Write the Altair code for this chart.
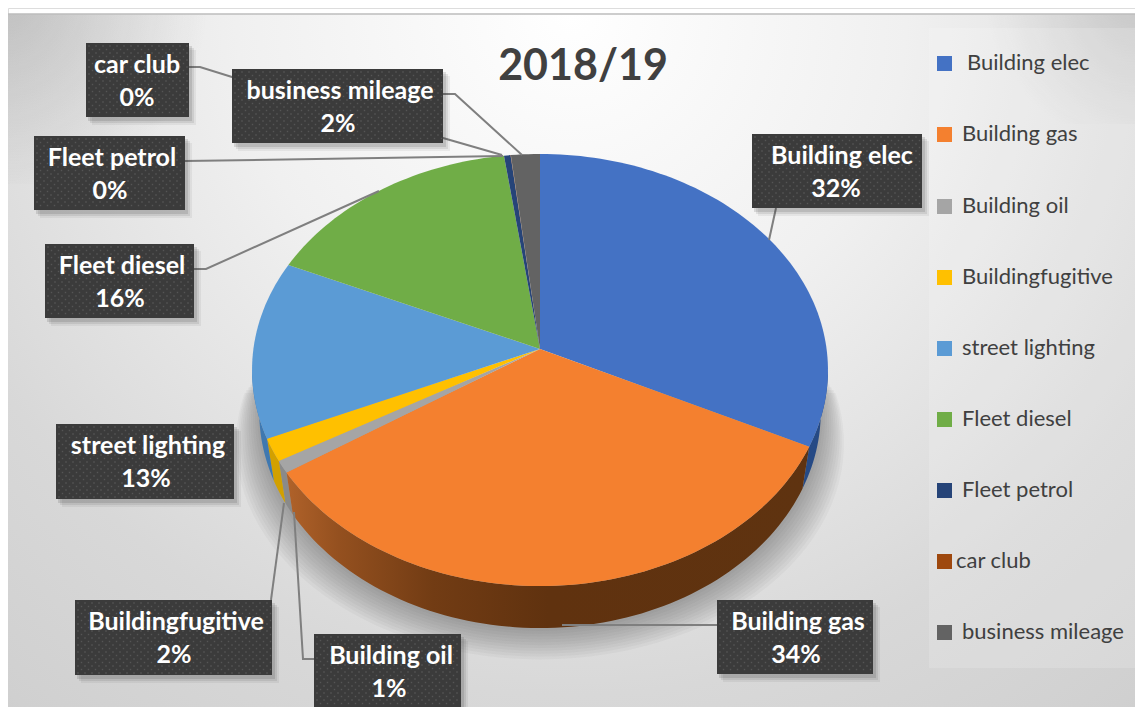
import math
import altair as alt
import pandas as pd

# ---- values
categories = ["Building elec", "Building gas", "Building oil", "Buildingfugitive",
              "street lighting", "Fleet diesel", "Fleet petrol", "car club", "business mileage"]
shares = [32.2, 33.6, 0.9, 1.7, 13.3, 16.1, 0.4, 0.02, 1.78]
percent_labels = ["32%", "34%", "1%", "2%", "13%", "16%", "0%", "0%", "2%"]
title_text = "2018/19"

# ---- styles
top_colors = ["#4472C4", "#F4802F", "#A5A5A5", "#FFC000", "#5B9BD5", "#70AD47", "#264478", "#9E480E", "#636363"]
wall_colors = ["#264a85", "#60320f", "#8a8a8a", "#d2a000", "#3f78b0", "#5a8a38", "#264478", "#9E480E", "#636363"]
FONT = "Lato"

# ---- layout
W, H = 1127, 699
TOP = 14
CX, APEX_Y = 540.0, 349.0
K, RX, RY = 0.0972, 286.6, 214.0
DEPTH, SHRINK = 42.0, 0.975

x_enc = alt.X("x:Q", scale=alt.Scale(domain=[8, 8 + W], range=[0, W], nice=False, zero=False), axis=None)
y_enc = alt.Y("y:Q", scale=alt.Scale(domain=[8, 8 + H], range=[0, H], nice=False, zero=False), axis=None)


def rim(theta_deg):
    t = math.radians(theta_deg)
    u, v = math.sin(t), math.cos(t)
    w = 1 + K * v
    return CX + RX * u / w, APEX_Y - RY * v / w


def drop(p):
    return CX + (p[0] - CX) * SHRINK, p[1] + DEPTH


def angles(a, b, step=1.5):
    n = max(2, int(abs(b - a) / step) + 2)
    return [a + (b - a) * i / (n - 1) for i in range(n)]


def poly_rows(pid, color, pts):
    return [{"id": pid, "i": i, "x": p[0], "y": p[1], "color": color} for i, p in enumerate(pts)]


def poly_layer(rows, **mark):
    return alt.Chart(pd.DataFrame(rows)).mark_line(strokeWidth=0, **mark).encode(
        x=x_enc, y=y_enc, order="i:Q", detail="id:N",
        fill=alt.Fill("color:N", scale=None))


def gradient_poly(pts, gradient):
    df = pd.DataFrame(poly_rows("g", "g", pts))
    return alt.Chart(df).mark_line(strokeWidth=0, fill=gradient).encode(
        x=x_enc, y=y_enc, order="i:Q")


bounds = []
acc = 0.0
for s in shares:
    bounds.append((acc * 3.6, (acc + s) * 3.6))
    acc += s

# top slices
top_rows = []
for name, col, (a, b) in zip(categories, top_colors, bounds):
    pts = [(CX, APEX_Y)] + [rim(t) for t in angles(a, b)]
    top_rows += poly_rows(name, col, pts)
top_layer = poly_layer(top_rows)

# walls (only the visible front part of the rim)
VIS_A, VIS_B = 95.6, 264.4
wall_layers = []
wall_rows = []
for name, col, (a, b) in zip(categories, wall_colors, bounds):
    lo, hi = max(a, VIS_A), min(b, VIS_B)
    if hi <= lo:
        continue
    up = [rim(t) for t in angles(lo, hi)]
    pts = up + [drop(p) for p in reversed(up)]
    if name == "Building gas":
        wall_layers.append(gradient_poly(pts, alt.Gradient(
            gradient="linear", x1=1, x2=0, y1=0, y2=0,
            stops=[alt.GradientStop(offset=0, color="#5f3310"),
                   alt.GradientStop(offset=0.5, color="#60320f"),
                   alt.GradientStop(offset=0.72, color="#723c14"),
                   alt.GradientStop(offset=0.9, color="#94501f"),
                   alt.GradientStop(offset=1, color="#b0622a")])))
    else:
        wall_rows += poly_rows(name, col, pts)
wall_layers.insert(0, poly_layer(wall_rows))

# soft shadow under the pie: stacked translucent outlines
shadow_rows = []
shadow_steps = [33, 30, 27, 24, 21, 18, 15, 12, 9, 6, 3]
for g in shadow_steps:
    pts = []
    for t in angles(82, 278, 3):
        p = drop(rim(t))
        pts.append((CX + (p[0] - CX) * (1 + g / 400.0), p[1] + g * 0.95))
    shadow_rows += poly_rows(f"s{g}", "#444444", pts)
shadow_layer = poly_layer(shadow_rows, opacity=0.045)

# background: a tall rect so the radial gradient falls off faster sideways than downward
bg_df = pd.DataFrame({"x": [8], "x2": [8 + W], "y": [TOP], "y2": [TOP + 1800]})
background = alt.Chart(bg_df).mark_rect(
    fill=alt.Gradient(gradient="radial", x1=0.5, y1=0.0, x2=0.5, y2=0.0, r1=0, r2=0.62,
                      stops=[alt.GradientStop(offset=0, color="#ffffff"),
                             alt.GradientStop(offset=0.3, color="#f0f0f0"),
                             alt.GradientStop(offset=0.61, color="#d8d8d8"),
                             alt.GradientStop(offset=0.79, color="#d0d0d0"),
                             alt.GradientStop(offset=1, color="#bababa")])
).encode(x=x_enc, x2="x2:Q", y=y_enc, y2="y2:Q")
corner_tl = alt.Chart(pd.DataFrame({"x": [8], "x2": [208], "y": [TOP], "y2": [TOP + 170]})).mark_rect(
    fill=alt.Gradient(gradient="radial", x1=0, y1=0, x2=0, y2=0, r1=0, r2=1,
                      stops=[alt.GradientStop(offset=0, color="rgba(110,110,110,0.28)"),
                             alt.GradientStop(offset=1, color="rgba(110,110,110,0)")])
).encode(x=x_enc, x2="x2:Q", y=y_enc, y2="y2:Q")
corner_tr = alt.Chart(pd.DataFrame({"x": [985], "x2": [1135], "y": [TOP], "y2": [TOP + 110]})).mark_rect(
    fill=alt.Gradient(gradient="radial", x1=1, y1=0, x2=1, y2=0, r1=0, r2=1,
                      stops=[alt.GradientStop(offset=0, color="rgba(110,110,110,0.22)"),
                             alt.GradientStop(offset=1, color="rgba(110,110,110,0)")])
).encode(x=x_enc, x2="x2:Q", y=y_enc, y2="y2:Q")
top_edge = alt.Chart(pd.DataFrame({"x": [8], "x2": [8 + W], "y": [TOP]})).mark_rule(
    color="#bdbdbd", strokeWidth=1.5).encode(x=x_enc, x2="x2:Q", y=y_enc)
panel = alt.Chart(pd.DataFrame({"x": [929], "x2": [1135], "y": [28], "y2": [668]})).mark_rect(
    fill="#ffffff", opacity=0.16).encode(x=x_enc, x2="x2:Q", y=y_enc, y2="y2:Q")

# data label boxes: left, right, top, bottom, text centre x
boxes = {
    "Building elec": (752, 922, 134, 208, 842),
    "Building gas": (717, 873, 600, 674, 798),
    "Building oil": (314, 461, 634, 707, 391),
    "Buildingfugitive": (75, 272, 600, 675, 176),
    "street lighting": (56, 234, 424, 499, 148),
    "Fleet diesel": (45, 194, 244, 318, 122),
    "Fleet petrol": (34, 185, 136, 210, 112),
    "car club": (86, 189, 43, 117, 137),
    "business mileage": (232, 443, 69, 143, 340),
}
box_df = pd.DataFrame([{"name": n, "x": b[0], "x2": b[1], "y": b[2], "y2": b[3]} for n, b in boxes.items()])
shadow_boxes = []
for off, op in [(7, 0.07), (5, 0.1), (3, 0.14)]:
    d = box_df.assign(x=box_df.x + off - 1, x2=box_df.x2 + off, y=box_df.y + off, y2=box_df.y2 + off + 1)
    shadow_boxes.append(alt.Chart(d).mark_rect(fill="#333333", opacity=op).encode(
        x=x_enc, x2="x2:Q", y=y_enc, y2="y2:Q"))
box_layer = alt.Chart(box_df).mark_rect(fill="#3b3b3b").encode(x=x_enc, x2="x2:Q", y=y_enc, y2="y2:Q")

# dotted texture of the boxes
dot_rows = []
for n, b in boxes.items():
    row = 0
    yy = b[2] + 3.0
    while yy < b[3] - 1:
        xx = b[0] + (3.0 if row % 2 == 0 else 6.5)
        while xx < b[1] - 1:
            dot_rows.append({"x": xx, "y": yy})
            xx += 7
        yy += 3.5
        row += 1
dots = alt.Chart(pd.DataFrame(dot_rows)).mark_square(size=2.2, color="#5c5c5c", opacity=0.8, strokeWidth=0).encode(
    x=x_enc, y=y_enc)

# label text
text_rows = []
for name, pct in zip(categories, percent_labels):
    b = boxes[name]
    text_rows.append({"x": b[4], "y": b[2] + 22, "t": name})
    text_rows.append({"x": b[4] - (6 if name in ("Building elec",) else 2 if name != "car club" else 0), "y": b[2] + 55, "t": pct})
label_text = alt.Chart(pd.DataFrame(text_rows)).mark_text(
    font=FONT, fontSize=25, fontWeight="bold", color="#ffffff", align="center", baseline="middle"
).encode(x=x_enc, y=y_enc, text="t:N")

# leader lines
leaders = {
    "car club": [(189, 67), (200, 67), (232, 77), (443, 138), (502, 155)],
    "business mileage": [(443, 94), (455, 94), (522, 155)],
    "Fleet petrol": [(185, 161), (503, 156)],
    "Fleet diesel": [(194, 269), (206, 269), (379, 191)],
    "Building elec": [(776, 208), (769, 240)],
    "Building gas": [(717, 625), (562, 625)],
    "Buildingfugitive": [(271, 600), (284, 503)],
    "Building oil": [(314, 659), (303, 659), (294, 512)],
}
leader_rows = []
for n, pts in leaders.items():
    leader_rows += poly_rows(n, "#7f7f7f", pts)
leader_layer = alt.Chart(pd.DataFrame(leader_rows)).mark_line(color="#7f7f7f", strokeWidth=2).encode(
    x=x_enc, y=y_enc, order="i:Q", detail="id:N")

# title
title_layer = alt.Chart(pd.DataFrame({"x": [583], "y": [67], "t": [title_text]})).mark_text(
    font=FONT, fontSize=43, fontWeight="bold", color="#404040", align="center", baseline="middle"
).encode(x=x_enc, y=y_enc, text="t:N")

# legend
row_y = [63, 134, 206, 277, 348, 419, 490, 561, 632]
text_x = [967, 962, 962, 962, 962, 962, 962, 956, 962]
swatch_df = pd.DataFrame({"x": [937] * 9, "x2": [952] * 9, "y": [y - 7 for y in row_y],
                          "y2": [y + 8 for y in row_y], "color": top_colors})
swatch_layer = alt.Chart(swatch_df).mark_rect().encode(
    x=x_enc, x2="x2:Q", y=y_enc, y2="y2:Q", fill=alt.Fill("color:N", scale=None))
legend_text = alt.Chart(pd.DataFrame({"x": text_x, "y": row_y, "t": categories})).mark_text(
    font=FONT, fontSize=22, color="#404040", align="left", baseline="middle"
).encode(x=x_enc, y=y_enc, text="t:N")

chart = alt.layer(
    background, corner_tl, corner_tr, top_edge, panel, shadow_layer, *wall_layers, top_layer, leader_layer,
    *shadow_boxes, box_layer, dots, label_text, title_layer, swatch_layer, legend_text
).properties(
    width=W, height=H, padding=0, autosize=alt.AutoSizeParams(type="none")
).configure_view(stroke=None).configure(background="#ffffff")

chart.save("out.html", embed_options={"renderer": "svg", "actions": False})
